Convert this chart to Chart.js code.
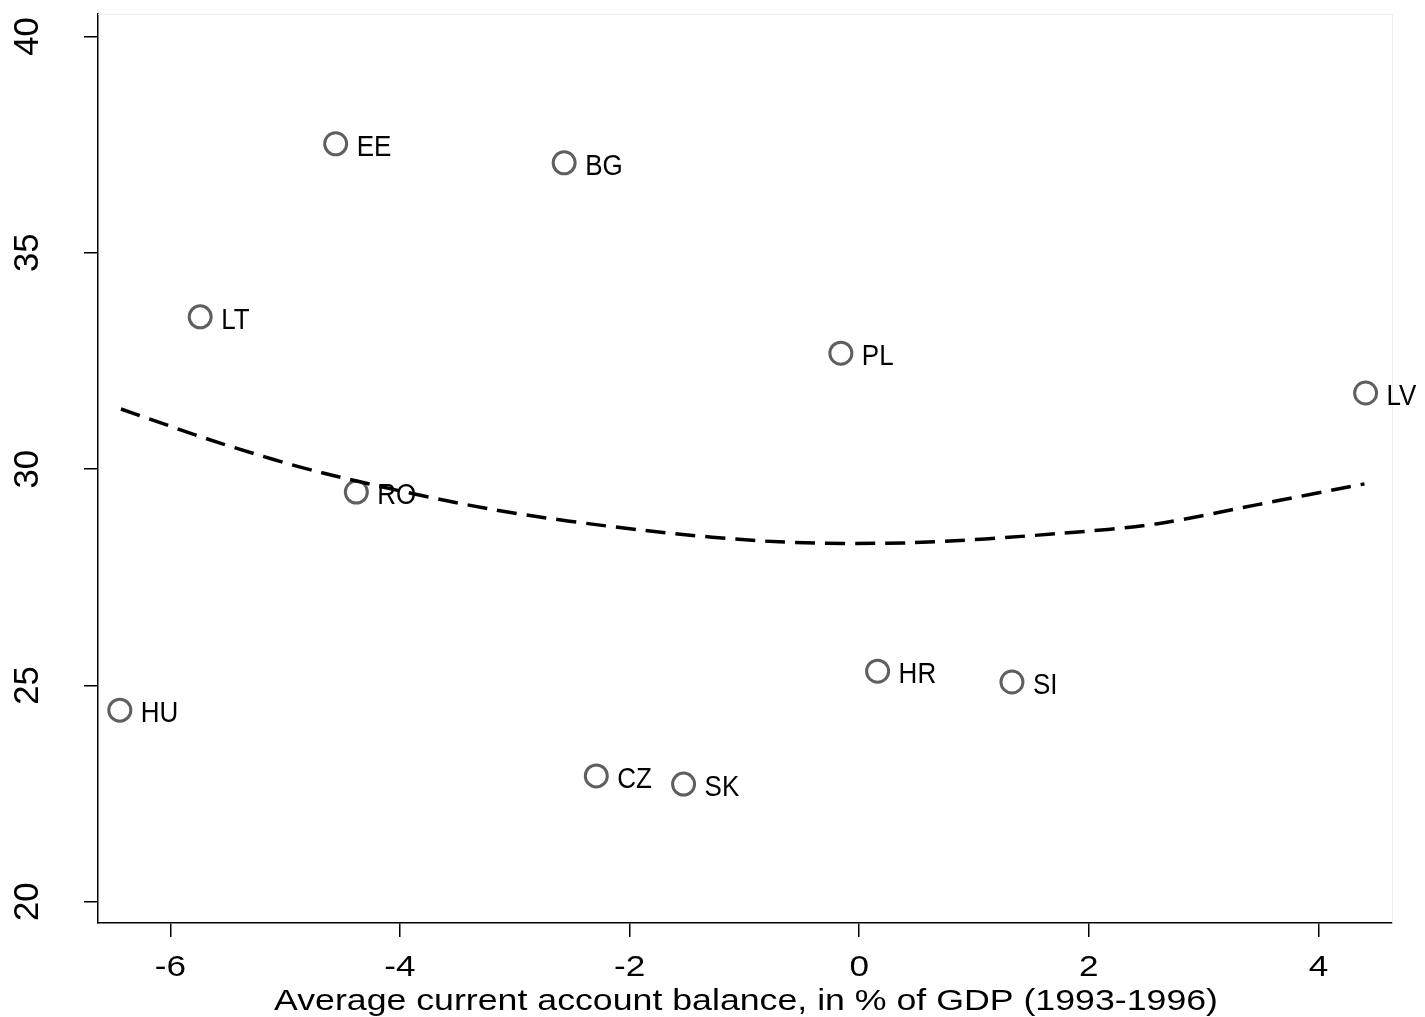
<!DOCTYPE html>
<html>
<head>
<meta charset="utf-8">
<script src="https://cdn.jsdelivr.net/npm/chart.js@4.4.0/dist/chart.umd.min.js"></script>
<style>
    html, body { margin: 0; padding: 0; background: #fff; }
    #wrap { width: 1425px; height: 1017px; }
</style>
</head>
<body>
<div id="wrap"><canvas id="chart" width="1425" height="1017"></canvas></div>
<script>
// country codes and values
const countries = ['EE', 'BG', 'LT', 'PL', 'LV', 'RO', 'HR', 'SI', 'HU', 'CZ', 'SK'];
const currentAccount = [-4.56, -2.57, -5.74, -0.16, 4.41, -4.38, 0.16, 1.33, -6.44, -2.29, -1.53];
const yValues = [37.52, 37.08, 33.52, 32.68, 31.76, 29.47, 25.33, 25.08, 24.43, 22.91, 22.72];

// fitted curve, sampled along the dashed line
const fitX = [-6.43, -5.54, -4.67, -3.22, -1.86, -0.70, 0.46, 1.73, 2.60, 3.47, 4.40];
const fitY = [31.39, 30.58, 29.91, 29.08, 28.58, 28.32, 28.30, 28.51, 28.74, 29.18, 29.66];

const xTicks = [-6, -4, -2, 0, 2, 4];
const yTicks = [20, 25, 30, 35, 40];
const xTitle = 'Average current account balance, in % of GDP (1993-1996)';

const FONT = '"Liberation Sans", Arial, sans-serif';

const scatterPoints = currentAccount.map((x, i) => ({ x: x, y: yValues[i] }));
const fitPoints = fitX.map((x, i) => ({ x: x, y: fitY[i] }));

// draw text with a horizontal/vertical stretch (the original is a resized export)
function stretchedText(ctx, text, x, y, sx, sy, angle) {
    ctx.save();
    ctx.translate(x, y);
    if (angle) ctx.rotate(angle);
    ctx.scale(sx, sy);
    ctx.fillText(text, 0, 0);
    ctx.restore();
}

// axis labels, point labels and the faint plot frame
const extrasPlugin = {
    id: 'extras',
    afterDraw(chart) {
        const ctx = chart.ctx;
        const area = chart.chartArea;
        const xScale = chart.scales.x;
        const yScale = chart.scales.y;

        ctx.save();
        ctx.strokeStyle = '#eeeeee';
        ctx.lineWidth = 1;
        ctx.beginPath();
        ctx.moveTo(area.left, area.top + 0.5);
        ctx.lineTo(area.right + 0.5, area.top + 0.5);
        ctx.lineTo(area.right + 0.5, area.bottom);
        ctx.stroke();

        ctx.fillStyle = '#000';

        // y tick labels, reading upward
        ctx.font = '33px ' + FONT;
        ctx.textAlign = 'center';
        ctx.textBaseline = 'alphabetic';
        yTicks.forEach(v => {
            stretchedText(ctx, String(v), 38, yScale.getPixelForValue(v), 1.05, 1.06, -Math.PI / 2);
        });

        // x tick labels
        ctx.font = '30px ' + FONT;
        xTicks.forEach(v => {
            stretchedText(ctx, String(v), xScale.getPixelForValue(v), 976, 1.17, 1);
        });

        // x axis title
        stretchedText(ctx, xTitle, (area.left + area.right) / 2 + 1, 1010, 1.19, 1);

        // country labels
        const meta = chart.getDatasetMeta(1);
        ctx.font = '26px ' + FONT;
        ctx.textAlign = 'left';
        meta.data.forEach((pt, i) => {
            stretchedText(ctx, countries[i], pt.x + 21, pt.y + 12, 1, 1.1);
        });
        ctx.restore();
    }
};

const ctx = document.getElementById('chart').getContext('2d');
new Chart(ctx, {
    type: 'scatter',
    data: {
        datasets: [
            {
                type: 'line',
                data: fitPoints,
                borderColor: '#000',
                borderWidth: 3.5,
                borderDash: [20, 10],
                pointRadius: 0,
                tension: 0.3,
                fill: false
            },
            {
                data: scatterPoints,
                pointRadius: 11,
                pointBorderWidth: 3,
                pointBorderColor: '#5f5f5f',
                pointBackgroundColor: 'rgba(0,0,0,0)'
            }
        ]
    },
    options: {
        responsive: false,
        animation: false,
        layout: { padding: { top: 7, right: 33, left: 0, bottom: 0 } },
        plugins: {
            legend: { display: false },
            tooltip: { enabled: false }
        },
        scales: {
            x: {
                type: 'linear',
                min: -6.63,
                max: 4.64,
                afterBuildTicks: axis => { axis.ticks = xTicks.map(v => ({ value: v })); },
                afterFit: axis => { axis.height = 94; },
                grid: { drawOnChartArea: false, drawTicks: true, tickLength: 14, color: '#000', lineWidth: 1.5 },
                border: { display: true, color: '#000', width: 1.5 },
                ticks: { display: false }
            },
            y: {
                type: 'linear',
                min: 19.51,
                max: 40.52,
                afterBuildTicks: axis => { axis.ticks = yTicks.map(v => ({ value: v })); },
                afterFit: axis => { axis.width = 98; },
                grid: { drawOnChartArea: false, drawTicks: true, tickLength: 14, color: '#000', lineWidth: 1.5 },
                border: { display: true, color: '#000', width: 1.5 },
                ticks: { display: false }
            }
        }
    },
    plugins: [extrasPlugin]
});
</script>
</body>
</html>
